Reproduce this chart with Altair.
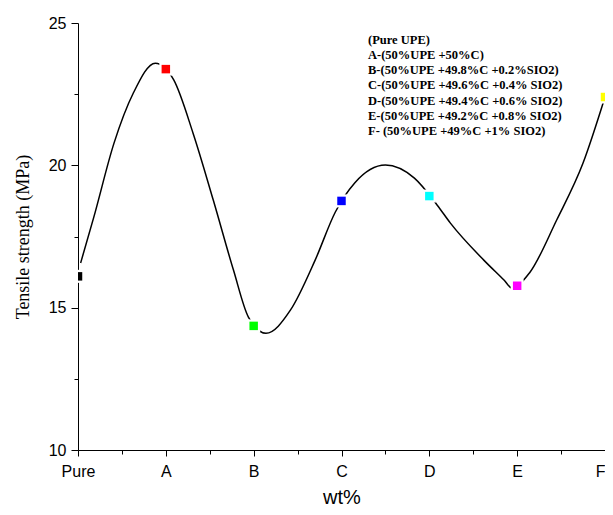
import altair as alt
import pandas as pd

# categories and measured values
categories = ["Pure", "A", "B", "C", "D", "E", "F"]
strength = [16.1, 23.38, 14.36, 18.75, 18.92, 15.77, 22.4]
marker_colors = ["#000000", "#ff0000", "#00ff00", "#0000ff", "#00ffff", "#ff00ff", "#ffff00"]

# smooth fitted curve (x in category units)
curve_x = [0.03, 0.18, 0.41, 0.63, 0.88, 1.09, 1.31, 1.54, 1.77, 1.94, 2.14, 2.42, 2.70,
           2.93, 3.15, 3.50, 3.83, 4.09, 4.24, 4.62, 4.85, 4.94, 5.14, 5.45, 5.75, 6.0]
curve_y = [16.57, 18.18, 20.78, 22.54, 23.59, 23.0, 21.13, 18.78, 16.32, 14.67, 14.1, 14.92,
           16.67, 18.36, 19.38, 20.01, 19.55, 18.6, 17.97, 16.67, 15.97, 15.69, 16.22, 18.08,
           20.08, 22.4]

legend_lines = [
    "(Pure UPE)",
    "A-(50%UPE +50%C)",
    "B-(50%UPE +49.8%C +0.2%SIO2)",
    "C-(50%UPE +49.6%C +0.4% SIO2)",
    "D-(50%UPE +49.4%C +0.6% SIO2)",
    "E-(50%UPE +49.2%C +0.8% SIO2)",
    "F- (50%UPE +49%C +1% SIO2)",
]

x_ticks = [i * 0.5 for i in range(13)]
y_ticks = [10, 12.5, 15, 17.5, 20, 22.5, 25]

pts = pd.DataFrame({
    "x": list(range(len(categories))),
    "cat": categories,
    "y": strength,
    "color": marker_colors,
})
curve = pd.DataFrame({"x": curve_x, "y": curve_y})

label_arr = "[" + ",".join("'" + c + "'" for c in categories) + "]"
x_label_expr = "datum.value % 1 == 0 ? " + label_arr + "[datum.value] : ''"
last_x = len(categories) - 1

x_scale = alt.Scale(domain=[0, last_x], nice=False, zero=False)
y_scale = alt.Scale(domain=[10, 25], nice=False, zero=False)

x_axis = alt.Axis(
    values=x_ticks,
    labelExpr=x_label_expr,
    title="wt%",
    grid=False,
    domainColor="black",
    tickColor="black",
    tickSize={"condition": {"test": "datum.value % 1 == 0", "value": 6}, "value": 4},
    labelFont="Liberation Sans",
    labelFontSize=16,
    labelColor="black",
    labelPadding=7,
    labelFlush=False,
    labelAlign={"condition": {"test": "datum.value == %d" % last_x, "value": "right"}, "value": "center"},
    titleFont="Liberation Sans",
    titleFontSize=20,
    titleFontWeight="normal",
    titleColor="black",
    titlePadding=8,
)
y_axis = alt.Axis(
    values=y_ticks,
    labelExpr="datum.value % 5 == 0 ? datum.label : ''",
    title="Tensile strength (MPa)",
    grid=False,
    domainColor="black",
    tickColor="black",
    tickSize={"condition": {"test": "datum.value % 5 == 0", "value": 7}, "value": 4},
    labelFont="Liberation Sans",
    labelFontSize=16,
    labelColor="black",
    labelPadding=5,
    labelFlush=False,
    titleFont="Liberation Serif",
    titleFontSize=18,
    titleFontWeight="normal",
    titleColor="black",
    titlePadding=16,
)

line = alt.Chart(curve).mark_line(
    color="black", strokeWidth=1.5, interpolate="monotone", clip=True
).encode(
    x=alt.X("x:Q", scale=x_scale, axis=x_axis),
    y=alt.Y("y:Q", scale=y_scale, axis=y_axis),
)

halo = alt.Chart(pts).mark_square(
    size=170, color="white", opacity=1, clip=True
).encode(
    x=alt.X("x:Q", scale=x_scale),
    y=alt.Y("y:Q", scale=y_scale),
)

markers = alt.Chart(pts).mark_square(
    size=72, opacity=1, clip=True
).encode(
    x=alt.X("x:Q", scale=x_scale),
    y=alt.Y("y:Q", scale=y_scale),
    color=alt.Color("color:N", scale=None, legend=None),
)

legend = alt.Chart(pd.DataFrame({"i": [0]})).mark_text(
    text=legend_lines,
    align="left",
    baseline="top",
    font="Liberation Serif",
    fontWeight="bold",
    fontSize=12.5,
    lineHeight=15.3,
    color="black",
).encode(x=alt.value(290), y=alt.value(10.5))

chart = alt.layer(line, halo, markers, legend).properties(
    width=527,
    height=427,
    background="white",
    autosize=alt.AutoSizeParams(type="none"),
    padding={"left": 70, "top": 15, "right": 0, "bottom": 57},
).configure_view(stroke=None)

chart.save("out.html", embed_options={"renderer": "svg", "actions": False})
